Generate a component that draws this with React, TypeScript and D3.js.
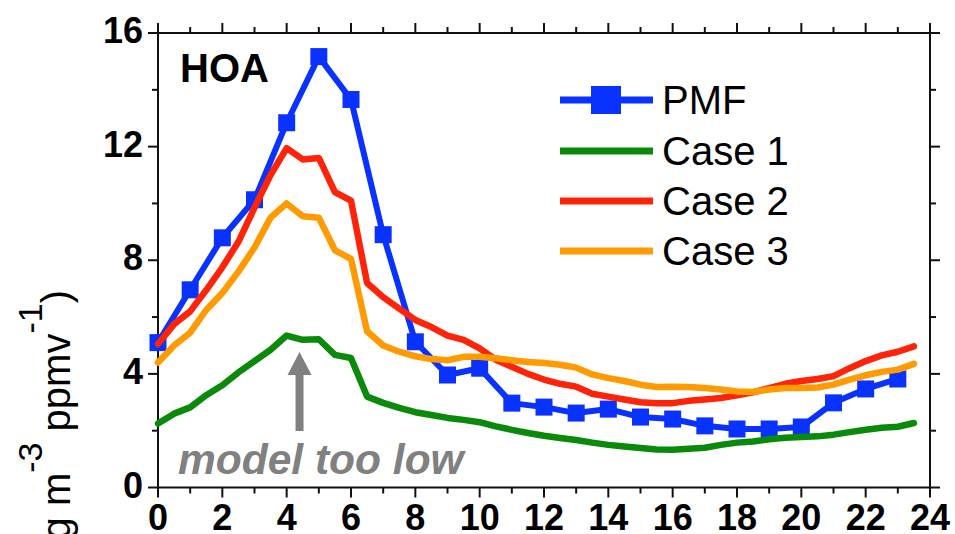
import React from "react";
import * as d3 from "d3";

// Diurnal HOA profiles: PMF factor (hourly) and three model cases (half-hourly)
const pmfHours = d3.range(0, 24);
const pmfValues = [
  5.1, 6.96, 8.79, 10.13, 12.84, 15.17, 13.66, 8.9, 5.13, 3.96, 4.2, 2.97,
  2.83, 2.62, 2.76, 2.48, 2.41, 2.17, 2.06, 2.06, 2.13, 2.98, 3.47, 3.82,
];

const caseHours = d3.range(0, 48).map((i) => i / 2);
const case1Values = [
  2.25, 2.6, 2.82, 3.25, 3.6, 4.05, 4.45, 4.85, 5.35, 5.2, 5.22, 4.67, 4.56,
  3.2, 2.98, 2.8, 2.65, 2.55, 2.45, 2.38, 2.3, 2.15, 2.03, 1.92, 1.82, 1.74,
  1.67, 1.58, 1.5, 1.44, 1.39, 1.34, 1.33, 1.36, 1.4, 1.5, 1.58, 1.62, 1.7,
  1.75, 1.78, 1.8, 1.86, 1.95, 2.03, 2.1, 2.14, 2.27,
];
const case2Values = [
  5.05, 5.75, 6.2, 6.95, 7.75, 8.65, 9.85, 11.0, 11.95, 11.55, 11.6, 10.4,
  10.1, 7.2, 6.7, 6.3, 5.9, 5.65, 5.35, 5.2, 4.9, 4.5, 4.25, 4.0, 3.8, 3.65,
  3.55, 3.3, 3.2, 3.1, 3.0, 2.97, 2.97, 3.05, 3.1, 3.15, 3.25, 3.35, 3.5,
  3.65, 3.75, 3.82, 3.92, 4.2, 4.45, 4.65, 4.78, 4.97,
];
const case3Values = [
  4.4, 5.0, 5.45, 6.25, 6.85, 7.6, 8.45, 9.5, 10.0, 9.55, 9.5, 8.35, 8.05,
  5.5, 5.0, 4.78, 4.62, 4.52, 4.48, 4.6, 4.6, 4.55, 4.48, 4.42, 4.38, 4.32,
  4.22, 3.98, 3.85, 3.75, 3.62, 3.54, 3.55, 3.54, 3.5, 3.45, 3.38, 3.36, 3.45,
  3.5, 3.5, 3.52, 3.62, 3.8, 3.95, 4.07, 4.15, 4.35,
];

const xTickLabels = d3.range(0, 25, 2);
const yTickLabels = [0, 4, 8, 12, 16];

const seriesNames = ["PMF", "Case 1", "Case 2", "Case 3"];
const seriesColors = ["#0a32ff", "#0a8a0a", "#ff2308", "#ff9a00"];

const W = 955;
const H = 534;
const FONT = "'Liberation Sans', Arial, Helvetica, sans-serif";

export default function App() {
  const x = d3.scaleLinear().domain([0, 24]).range([158, 930]);
  const y = d3.scaleLinear().domain([0, 16]).range([487.5, 33]);
  const [x0, x1] = x.range();
  const [yb, yt] = y.range();

  const line = d3
    .line<[number, number]>()
    .x((d) => x(d[0]))
    .y((d) => y(d[1]));

  const caseSeries = [case1Values, case2Values, case3Values].map((vals) =>
    caseHours.map((h, i) => [h, vals[i]] as [number, number])
  );
  const pmfSeries = pmfHours.map((h, i) => [h, pmfValues[i]] as [number, number]);

  const hourTicks = d3.range(0, 25);
  const yMinorTicks = d3.range(0, 17, 2);
  const axisColor = "#111";
  const sw = 2;

  const legendRows = [100, 151, 201, 251];
  const arrowX = x(4.4);

  return (
    <svg
      width={W}
      height={H}
      style={{ position: "absolute", left: 0, top: 0, background: "#fff" }}
      fontFamily={FONT}
    >
      <rect width={W} height={H} fill="#fff" />

      {/* frame */}
      <g stroke={axisColor} strokeWidth={sw} fill="none">
        <rect x={x0} y={yt} width={x1 - x0} height={yb - yt} />
        {hourTicks.map((h) => {
          const len = h % 2 === 0 ? 10 : 6;
          return (
            <g key={"hx" + h}>
              <line x1={x(h)} x2={x(h)} y1={yb} y2={yb + len} />
              <line x1={x(h)} x2={x(h)} y1={yt} y2={yt - len} />
            </g>
          );
        })}
        {yMinorTicks.map((v) => {
          const len = v % 4 === 0 ? 10 : 6;
          return (
            <g key={"hy" + v}>
              <line x1={x0} x2={x0 - len} y1={y(v)} y2={y(v)} />
              <line x1={x1} x2={x1 + len} y1={y(v)} y2={y(v)} />
            </g>
          );
        })}
      </g>

      {/* tick labels */}
      <g fontWeight="bold" fontSize={36} fill="#000">
        {xTickLabels.map((h) => (
          <text key={"xl" + h} x={x(h)} y={530} textAnchor="middle">
            {h}
          </text>
        ))}
        {yTickLabels.map((v) => (
          <text key={"yl" + v} x={143} y={y(v) + 10} textAnchor="end">
            {v}
          </text>
        ))}
      </g>

      {/* y-axis title */}
      <text
        transform={`translate(70, 290) rotate(-90)`}
        textAnchor="end"
        fontSize={40}
        fill="#000"
      >
        <tspan>(μg m</tspan>
        <tspan dy={-28} fontSize={34}>-3</tspan>
        <tspan dy={28}> ppmv</tspan>
        <tspan dy={-28} fontSize={34}>-1</tspan>
        <tspan dy={28}>)</tspan>
      </text>

      {/* PMF series */}
      <path
        d={line(pmfSeries) || ""}
        fill="none"
        stroke={seriesColors[0]}
        strokeWidth={6}
        strokeLinejoin="round"
      />
      {pmfSeries.map((d, i) => (
        <rect
          key={"m" + i}
          x={x(d[0]) - 8.5}
          y={y(d[1]) - 8.5}
          width={17}
          height={17}
          fill={seriesColors[0]}
        />
      ))}

      {/* model cases */}
      {caseSeries.map((s, i) => (
        <path
          key={"c" + i}
          d={line(s) || ""}
          fill="none"
          stroke={seriesColors[i + 1]}
          strokeWidth={6.5}
          strokeLinejoin="round"
          strokeLinecap="round"
        />
      ))}

      {/* panel label */}
      <text x={180} y={82} fontSize={40} fontWeight="bold" fill="#000">
        HOA
      </text>

      {/* legend */}
      <g>
        {seriesNames.map((name, i) => (
          <g key={name}>
            <line
              x1={560}
              x2={653}
              y1={legendRows[i]}
              y2={legendRows[i]}
              stroke={seriesColors[i]}
              strokeWidth={7}
            />
            {i === 0 && (
              <rect
                x={591}
                y={legendRows[i] - 14}
                width={30}
                height={28}
                fill={seriesColors[0]}
              />
            )}
            <text x={662} y={legendRows[i] + 14} fontSize={40} fill="#000">
              {name}
            </text>
          </g>
        ))}
      </g>

      {/* annotation */}
      <g fill="#808080">
        <rect x={arrowX - 4} y={374} width={8} height={57} />
        <path
          d={`M${arrowX - 12},375 L${arrowX + 12},375 L${arrowX},352 Z`}
        />
        <text
          x={178}
          y={474}
          fontSize={42.5}
          fontWeight="bold"
          fontStyle="italic"
        >
          model too low
        </text>
      </g>
    </svg>
  );
}
